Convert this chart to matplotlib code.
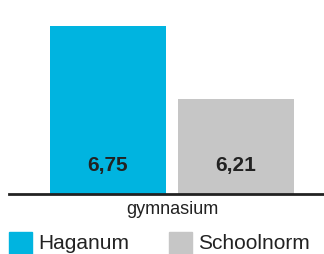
import matplotlib
matplotlib.use("Agg")
import matplotlib.pyplot as plt
from matplotlib.patches import Rectangle

category = "gymnasium"
series = ["Haganum", "Schoolnorm"]
values = [6.75, 6.21]
value_labels = ["6,75", "6,21"]
colors = ["#00b4e0", "#c6c6c6"]

plt.rcParams['font.family'] = ['Liberation Sans', 'DejaVu Sans']
W, H = 324, 254
fig = plt.figure(figsize=(W / 100, H / 100), dpi=100)
ax = fig.add_axes([9 / W, (H - 193.5) / H, (W - 9) / W, 193.5 / H])

ymin = 5.5
ax.set_ylim(ymin, 6.948)
ax.set_xlim(-0.773, 1.6875)
xs = list(range(len(series)))
ax.bar(xs, [v - ymin for v in values], bottom=ymin, width=0.906, color=colors)
for x, lab in zip(xs, value_labels):
    ax.text(x, ymin + 0.208, lab, ha='center', va='center', fontsize=15,
            fontweight='bold', color='#222222')

for s in ['top', 'left', 'right']:
    ax.spines[s].set_visible(False)
ax.spines['bottom'].set_linewidth(2)
ax.spines['bottom'].set_color('#222222')
ax.set_yticks([])
ax.set_xticks([])
fig.text(172 / W, 1 - 209 / H, category, ha='center', va='center', fontsize=13, color='#222222')

# legend
leg_x = [9, 169]
for lx, name, c in zip(leg_x, series, colors):
    fig.patches.append(Rectangle((lx / W, 0), 23 / W, 22 / H, transform=fig.transFigure,
                                 color=c, figure=fig))
    fig.text((lx + 29) / W, 1 - 243.5 / H, name, ha='left', va='center', fontsize=15,
             color='#222222')

fig.savefig("out.png", dpi=100)
